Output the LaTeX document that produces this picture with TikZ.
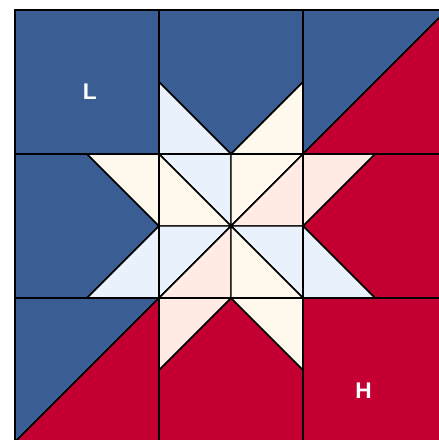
\documentclass[tikz,border=0pt]{standalone}
\usepackage{fontspec}
\setsansfont{Liberation Sans}
\definecolor{qblue}{HTML}{3A5D94}
\definecolor{qred}{HTML}{C40032}
\definecolor{qlblue}{HTML}{E8F1FC}
\definecolor{qcream}{HTML}{FFF8EC}
\definecolor{qpink}{HTML}{FFEBE4}
\begin{document}
\begin{tikzpicture}[x=54pt,y=54pt,
  piece/.style={draw=black,line width=1.1pt,line join=round},
  gridline/.style={draw=black,line width=1.6pt},
  lbl/.style={text=white,font=\sffamily\bfseries\fontsize{17}{17}\selectfont}]
\useasboundingbox (-0.2083,0.0278) rectangle (5.8889,6.1389);
\clip (-0.2083,0.0278) rectangle (5.8889,6.1389);
% top-left
\fill[qblue] (0,4) rectangle (2,6);
% top-middle
\filldraw[piece,fill=qblue] (2,6) -- (4,6) -- (4,5) -- (3,4) -- (2,5) -- cycle;
\filldraw[piece,fill=qlblue] (2,5) -- (3,4) -- (2,4) -- cycle;
\filldraw[piece,fill=qcream] (4,5) -- (3,4) -- (4,4) -- cycle;
% top-right
\filldraw[piece,fill=qblue] (4,4) -- (4,6) -- (6,6) -- cycle;
\filldraw[piece,fill=qred] (4,4) -- (6,6) -- (6,4) -- cycle;
% middle-left
\filldraw[piece,fill=qblue] (0,2) -- (0,4) -- (1,4) -- (2,3) -- (1,2) -- cycle;
\filldraw[piece,fill=qcream] (1,4) -- (2,4) -- (2,3) -- cycle;
\filldraw[piece,fill=qlblue] (1,2) -- (2,2) -- (2,3) -- cycle;
% middle-right
\filldraw[piece,fill=qred] (6,2) -- (6,4) -- (5,4) -- (4,3) -- (5,2) -- cycle;
\filldraw[piece,fill=qpink] (4,4) -- (5,4) -- (4,3) -- cycle;
\filldraw[piece,fill=qlblue] (4,2) -- (5,2) -- (4,3) -- cycle;
% bottom-left
\filldraw[piece,fill=qblue] (0,0) -- (0,2) -- (2,2) -- cycle;
\filldraw[piece,fill=qred] (0,0) -- (2,2) -- (2,0) -- cycle;
% bottom-middle
\filldraw[piece,fill=qred] (2,0) -- (2,1) -- (3,2) -- (4,1) -- (4,0) -- cycle;
\filldraw[piece,fill=qpink] (2,2) -- (3,2) -- (2,1) -- cycle;
\filldraw[piece,fill=qcream] (3,2) -- (4,2) -- (4,1) -- cycle;
% bottom-right
\fill[qred] (4,0) rectangle (6,2);
% centre
\filldraw[piece,fill=qlblue] (2,4) -- (3,4) -- (3,3) -- cycle;
\filldraw[piece,fill=qcream] (2,4) -- (2,3) -- (3,3) -- cycle;
\filldraw[piece,fill=qcream] (3,3) -- (3,4) -- (4,4) -- cycle;
\filldraw[piece,fill=qpink] (3,3) -- (4,4) -- (4,3) -- cycle;
\filldraw[piece,fill=qlblue] (2,3) -- (3,3) -- (2,2) -- cycle;
\filldraw[piece,fill=qpink] (2,2) -- (3,3) -- (3,2) -- cycle;
\filldraw[piece,fill=qlblue] (3,3) -- (4,3) -- (4,2) -- cycle;
\filldraw[piece,fill=qcream] (3,3) -- (3,2) -- (4,2) -- cycle;
% grid
\draw[gridline] (0,0) rectangle (6,6);
\draw[gridline] (2,0) -- (2,6) (4,0) -- (4,6) (0,2) -- (6,2) (0,4) -- (6,4);
% labels
\node[lbl] (labL) at (1.04,4.86) {L};
\node[lbl] (labH) at (4.84,0.715) {H};
\end{tikzpicture}
\end{document}
